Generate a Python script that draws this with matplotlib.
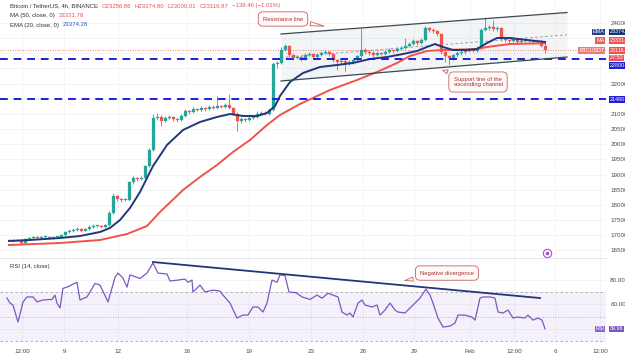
import matplotlib
matplotlib.use("Agg")
import matplotlib.pyplot as plt
import matplotlib.transforms as mtransforms
import numpy as np

plt.rcParams['font.family'] = ['Liberation Sans', 'DejaVu Sans']

# BTCUSDT 4h candles, x = hours since first bar (one bar every 4h)
first_open = 16820
closes = [16840, 16810, 16840, 16740, 16870, 16900, 16940, 16900, 16940, 16940,
          16900, 16940, 16940, 17000, 17100, 17140, 17170, 17200, 17140, 17200,
          17270, 17300, 17300, 17270, 17330, 17730, 18290, 18190, 18160, 18160,
          18750, 18890, 18850, 18890, 19280, 19810, 20870, 20900, 20770, 20870,
          20900, 20830, 20800, 20930, 21100, 21060, 21160, 21130, 21200, 21160,
          21230, 21200, 21260, 21230, 21290, 21200, 21000, 20770, 20830, 20800,
          20870, 20900, 21000, 21030, 21000, 21130, 22650, 22680, 23110, 23240,
          22940, 22850, 22880, 22810, 22940, 22980, 22880, 22940, 23010, 23040,
          22980, 22780, 22710, 22750, 22680, 22710, 22780, 22910, 23110, 23040,
          23010, 22940, 23010, 22980, 23040, 23110, 23080, 23140, 23180, 23240,
          23310, 23410, 23340, 23440, 23840, 23770, 23740, 23640, 23040, 22910,
          22850, 22940, 23010, 23040, 23080, 23110, 23080, 23180, 23770, 23840,
          23870, 23800, 23840, 23470, 23440, 23410, 23470, 23370, 23410, 23440,
          23410, 23370, 23410, 23256.86, 23116.87]
highs = [16880, 16870, 16870, 16860, 16900, 16940, 16980, 16960, 16970, 16980,
         16960, 16970, 16980, 17040, 17150, 17190, 17220, 17280, 17230, 17240,
         17320, 17360, 17350, 17330, 17380, 17800, 18400, 18320, 18230, 18210,
         18800, 18950, 18920, 18940, 19330, 19880, 21000, 21020, 20950, 20920,
         20980, 20940, 20880, 20990, 21160, 21140, 21230, 21200, 21260, 21240,
         21290, 21280, 21600, 21310, 21350, 21650, 21240, 21050, 20900, 20880,
         20930, 20960, 21080, 21100, 21090, 21200, 22700, 22760, 23200, 23320,
         23280, 22990, 22950, 22920, 23000, 23040, 23020, 23000, 23070, 23110,
         23080, 23020, 22820, 22800, 22790, 22770, 22840, 22960, 23820, 23180,
         23100, 23060, 23080, 23050, 23100, 23170, 23150, 23200, 23250, 23500,
         23380, 23470, 23450, 23500, 23900, 23880, 23820, 23780, 23680, 23090,
         22960, 22990, 23060, 23100, 23130, 23160, 23150, 23240, 23820, 24200,
         23950, 24100, 23900, 23880, 23520, 23480, 23530, 23510, 23470, 23490,
         23480, 23450, 23460, 23450, 23374.80]
lows = [16790, 16780, 16790, 16700, 16720, 16850, 16880, 16880, 16880, 16910,
        16870, 16880, 16910, 16920, 16980, 17080, 17110, 17150, 17100, 17120,
        17180, 17240, 17260, 17230, 17250, 17300, 17700, 18120, 18100, 18110,
        18140, 18700, 18780, 18810, 18860, 19250, 19780, 20800, 20600, 20730,
        20830, 20780, 20740, 20770, 20900, 20990, 21020, 21080, 21100, 21110,
        21120, 21150, 21170, 21180, 21200, 21150, 20950, 20450, 20700, 20740,
        20760, 20830, 20860, 20960, 20950, 20970, 21100, 22500, 22640, 23060,
        22880, 22780, 22800, 22740, 22780, 22900, 22820, 22840, 22900, 22970,
        22920, 22700, 22450, 22650, 22400, 22620, 22660, 22740, 22880, 22990,
        22960, 22880, 22900, 22930, 22940, 23000, 23020, 23040, 23100, 23140,
        23200, 23270, 23290, 23300, 23400, 23700, 23680, 23580, 22980, 22700,
        22600, 22780, 22890, 22960, 22990, 23040, 23030, 23040, 23150, 23720,
        23780, 23740, 23750, 23400, 23380, 23350, 23370, 23310, 23330, 23380,
        23360, 23320, 23340, 23200, 23000.01]

ema_t = [0, 21, 51, 71, 91, 101, 111, 121, 131, 144, 158, 174, 191, 208, 221, 234, 248, 258,
         266, 271, 281, 294, 311, 328, 344, 361, 378, 394, 408, 418, 426, 434, 444, 458,
         468, 478, 488, 501, 518, 536]
ema_v = [16806, 16839, 16905, 16971, 17103, 17235, 17499, 17895, 18423, 19281, 19974, 20469,
         20733, 20898, 20997, 20931, 20931, 21030, 21261, 21591, 22053, 22350, 22548, 22614,
         22680, 22812, 22878, 22977, 23076, 23208, 23307, 23208, 23109, 23109, 23142, 23340,
         23505, 23505, 23439, 23374.28]

ma_t = [0, 51, 91, 118, 138, 151, 174, 191, 208, 224, 241, 258, 271, 291, 321, 348, 368,
        388, 401, 418, 434, 468, 478, 501, 536]
ma_v = [16674, 16740, 16839, 17037, 17301, 17763, 18489, 18918, 19314, 19743, 20139, 20634,
        20964, 21327, 21789, 22119, 22383, 22680, 22911, 23076, 23109, 23142, 23208, 23307,
        23331.78]

rsi_t = [-2, 1, 4, 9, 14, 18, 24, 28, 34, 43,
         46, 48, 51, 54, 58, 68, 71, 78, 86, 91,
         99, 106, 109, 114, 118, 121, 128, 131, 138, 144,
         149, 158, 161, 169, 176, 179, 183, 184, 191, 196,
         204, 211, 214, 221, 228, 234, 239, 244, 249, 254,
         258, 263, 268, 271, 276, 280, 287, 293, 301, 308,
         313, 319, 329, 333, 338, 341, 344, 349, 353, 356,
         363, 368, 371, 376, 381, 386, 389, 396, 401, 404,
         411, 417, 421, 424, 429, 434, 441, 446, 449, 456,
         463, 466, 471, 474, 481, 486, 489, 494, 499, 504,
         509, 516, 519, 524, 529, 533, 536]
rsi_v = [65.1, 61, 59.4, 45.5, 61.8, 66, 66, 62, 63.5, 64,
         67.5, 61, 57, 73, 74, 78, 63.5, 66, 77, 75.7,
         62, 82, 85.5, 81.4, 74, 84, 82, 81, 85.5, 93.7,
         85.5, 84.7, 79, 79.8, 80.6, 78, 79.8, 70, 75.7, 70,
         71.6, 70.8, 67.5, 61, 48.8, 51.2, 51.2, 57.8, 57.8, 53.7,
         61, 79.8, 78, 84, 83.5, 70, 69.5, 66, 64, 67.5,
         65, 69, 66, 53.7, 51.2, 52.9, 49.6, 61, 63.5, 59.4,
         57.8, 59.4, 51.2, 55.3, 61, 55.3, 53.7, 52.9, 57, 59.4,
         65.1, 72.4, 67.5, 61, 48.8, 41.4, 42.2, 44.7, 51.2, 51.2,
         49.6, 47.1, 65.1, 66, 66, 65.1, 53.7, 52.9, 55.3, 48.8,
         49.6, 48.8, 51.2, 47.1, 48.8, 47.1, 39.96]

# drawn levels / trendlines
support_hi = 22800
support_lo = 21480
chan_t = [272, 558]
chan_top = [23637, 24346]
chan_bot = [22086, 22878]
div_t = [144, 531]
div_v = [94.5, 65.1]
event_t, event_p = 538, 16410

tick_pos = [13, 55, 109, 178, 240, 302, 354, 405, 461, 505, 546, 591]
tick_lbl = ["12:00", "9", "12", "16", "19", "23", "26", "29", "Feb", "12:00", "6", "12:00"]
price_ticks = list(range(16500, 24001, 500))
hidden_prices = [21500, 22500, 23000, 23500]   # covered by the price tags

GREEN = '#26a69a'
RED = '#ef5350'
NAVY = '#22367a'
PURPLE = '#7e57c2'
LBLUE = '#1f1fd8'
GRID = '#f1f2f5'
TXT = '#4a4a4a'

W, H = 625, 362
fig = plt.figure(figsize=(W / 100, H / 100), dpi=100)
fig.patch.set_facecolor('white')
ax = fig.add_axes([0, 1 - 258 / H, 606 / W, 258 / H])
ax2 = fig.add_axes([0, 1 - 343 / H, 606 / W, 85 / H], sharex=ax)

for a in (ax, ax2):
    for s in a.spines.values():
        s.set_visible(False)
    a.set_xticks(tick_pos)
    a.grid(True, color=GRID, lw=0.6)
    a.set_axisbelow(True)
    a.yaxis.tick_right()
    a.tick_params(length=0, labelsize=4.5, colors=TXT, pad=3)
ax.tick_params(axis='x', labelbottom=False)
ax2.set_xticklabels(tick_lbl)
ax2.tick_params(axis='x', pad=4)
ax2.spines['top'].set_visible(True)
ax2.spines['top'].set_color('#e0e3eb')
ax2.spines['top'].set_linewidth(0.6)

# ---- main panel
ax.set_xlim(-9, 597)
ax.set_ylim(16245, 24759)
ax.set_yticks(price_ticks)
ax.set_yticklabels(["" if p in hidden_prices else str(p) for p in price_ticks])

# channel
ax.fill_between(chan_t, chan_bot, chan_top, color='#b8c4cf', alpha=0.18, lw=0, zorder=1)
ax.plot(chan_t, chan_top, color='#3a4a55', lw=0.9, zorder=5)
ax.plot(chan_t, chan_bot, color='#3a4a55', lw=0.9, zorder=5)
ax.plot(chan_t, [(a + b) / 2 for a, b in zip(chan_top, chan_bot)], color='#8a8f98',
        lw=0.6, ls=(0, (3, 3)), zorder=1.5)

# candles
t = np.arange(len(closes)) * 4
c = np.array(closes)
o = np.r_[first_open, c[:-1]]
col = np.where(c >= o, GREEN, RED)
ax.vlines(t, lows, highs, colors=col, lw=0.6, zorder=2)
ax.bar(t, np.maximum(np.abs(c - o), 20), bottom=np.minimum(o, c), width=3.0,
       color=col, edgecolor=col, lw=0.2, zorder=2.1)

ax.plot(ma_t, ma_v, color='#f0534b', lw=1.4, zorder=3)
ax.plot(ema_t, ema_v, color=NAVY, lw=1.4, zorder=3.1)

ax.axhline(closes[-1], color=RED, lw=0.6, ls=(0, (1, 2)), zorder=1.8)
for lv in (support_hi, support_lo):
    ax.axhline(lv, color=LBLUE, lw=1.4, ls=(0, (4, 3)), zorder=4)

ax.plot(event_t, event_p, 'o', ms=6, mfc='white', mec='#b04fc8', mew=0.8, zorder=5)
ax.plot(event_t, event_p, 'o', ms=1.6, color='#b04fc8', zorder=5.1)


def tag(a, y, txt, fc, dy=0, name=None, name_fc=None):
    tr = mtransforms.blended_transform_factory(a.transAxes, a.transData)
    a.annotate(txt, xy=(1, y), xycoords=tr, xytext=(2.5, dy), textcoords='offset points',
               ha='left', va='center', fontsize=3.9, color='white', zorder=8,
               annotation_clip=False,
               bbox=dict(boxstyle='square,pad=0.15', fc=fc, ec='none'))
    if name:
        a.annotate(name, xy=(1, y), xycoords=tr, xytext=(-1.2, dy), textcoords='offset points',
                   ha='right', va='center', fontsize=3.9, color='white', zorder=8,
                   annotation_clip=False,
                   bbox=dict(boxstyle='square,pad=0.15', fc=name_fc, ec='none'))


tag(ax, ema_v[-1], "23374.28", '#1c2f70', dy=7.3, name="EMA", name_fc='#26408f')
tag(ax, ma_v[-1], "23331.78", RED, dy=1.8, name="MA", name_fc='#f05a55')
tag(ax, closes[-1], "23116.87", RED, dy=-0.6, name="BTCUSDT", name_fc='#f27a76')
tag(ax, closes[-1], "27:50", RED, dy=-5.8)
tag(ax, support_hi, "22800", LBLUE, dy=-4.4)
tag(ax, support_lo, "21480", LBLUE)

callout = dict(fontsize=4.2, color='#a8302c', ha='center', va='center', zorder=9,
               bbox=dict(boxstyle='round,pad=0.8', fc='#fffafa', ec='#c9605a', lw=0.6))
wedge = dict(arrowstyle='wedge,tail_width=0.7', fc='#fffafa', ec='#c9605a', lw=0.6)
ax.annotate("Resistance line", xy=(318, 23880), xytext=(274, 24132), arrowprops=wedge, **callout)
ax.annotate("Support line of the\nascending channel", xy=(431, 22470), xytext=(469, 22053),
            multialignment='left', arrowprops=wedge, **callout)

# ---- RSI panel
ax2.set_ylim(28.4, 97.8)
ax2.set_yticks([40, 60, 80])
ax2.set_yticklabels(["", "60.00", "80.00"])
ax2.axhspan(30, 70, color=PURPLE, alpha=0.08, lw=0)
ax2.axhline(70, color='#a3a6ae', lw=0.6, ls=(0, (3, 3)))
ax2.axhline(50, color='#a3a6ae', lw=0.6, ls=(0, (1, 2)))
ax2.axhline(30, color='#a3a6ae', lw=0.6, ls=(0, (3, 3)))
ax2.plot(rsi_t, rsi_v, color=PURPLE, lw=0.9, zorder=3)
ax2.plot(div_t, div_v, color=NAVY, lw=1.3, zorder=4)
ax2.annotate("Negative divergence", xy=(393, 79), xytext=(438, 85.5), arrowprops=wedge, **callout)
tag(ax2, rsi_v[-1], "39.96", PURPLE, name="RSI", name_fc='#8c66cf')


# ---- headers
def chain(first, parts, gap=2.5):
    prev = first
    for txt, color in parts:
        prev = ax.annotate(txt, xy=(1, 0), xycoords=prev, xytext=(gap, 0),
                           textcoords='offset points', fontsize=4.3, color=color,
                           va='bottom', ha='left', annotation_clip=False)


h1 = fig.text(10 / W, 1 - 7.5 / H, "Bitcoin / TetherUS, 4h, BINANCE", fontsize=4.3, color='#333')
chain(h1, [("O23256.86", RED), ("H23374.80", RED), ("L23000.01", RED),
           ("C23116.87", RED), ("\u2212139.46 (\u22121.03%)", RED)])
h2 = fig.text(10 / W, 1 - 17 / H, "MA (50, close, 0)", fontsize=4.3, color='#333')
chain(h2, [("23331.78", RED)], gap=3)
h3 = fig.text(10 / W, 1 - 26.5 / H, "EMA (20, close, 0)", fontsize=4.3, color='#333')
chain(h3, [("23374.28", '#2a55c8')], gap=3)
h4 = fig.text(10 / W, 1 - 268 / H, "RSI (14, close)", fontsize=4.3, color='#333')
chain(h4, [("39.96", PURPLE)], gap=3)

fig.savefig("out.png", dpi=100, facecolor='white')
